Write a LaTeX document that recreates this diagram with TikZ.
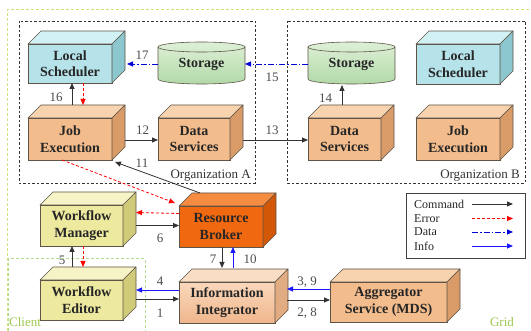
\documentclass[tikz,border=0pt]{standalone}
\usepackage{fontspec}
\setmainfont{Liberation Serif}
\usetikzlibrary{arrows.meta}
\definecolor{edgec}{HTML}{5E5448}
\definecolor{lsF}{HTML}{B6E3EA}
\definecolor{lsT}{HTML}{D2F1F5}
\definecolor{lsS}{HTML}{8CC6CE}
\definecolor{pcF}{HTML}{F3BC8C}
\definecolor{pcT}{HTML}{F8D3B0}
\definecolor{pcS}{HTML}{D99C68}
\definecolor{wfF}{HTML}{EDE99F}
\definecolor{wfT}{HTML}{F6F3C6}
\definecolor{wfS}{HTML}{D0CB78}
\definecolor{rbF}{HTML}{F0680F}
\definecolor{rbT}{HTML}{F68B42}
\definecolor{rbS}{HTML}{D25808}
\definecolor{iiT}{HTML}{FADDC5}
\definecolor{iiS}{HTML}{E2AC82}
\definecolor{iiA}{HTML}{FAD8BC}
\definecolor{iiB}{HTML}{EFB68C}
\definecolor{stT}{HTML}{DDF0D6}
\definecolor{stB}{HTML}{B2D9A8}
\definecolor{gridc}{HTML}{D6DE7A}
\definecolor{clientc}{HTML}{B4DC8C}
\definecolor{labc}{HTML}{9CC850}
\newcommand\cubo[9]{%
\node[cub, minimum width=#4pt, minimum height=#5pt, #6] (#1) at (#2,#3) {#9};
\filldraw[cubeedge, fill=#7] (#1.north west) -- ++(13pt,13pt) -- ([shift={(13pt,13pt)}]#1.north east) -- (#1.north east) -- cycle;
\filldraw[cubeedge, fill=#8] (#1.north east) -- ++(13pt,13pt) -- ([shift={(13pt,13pt)}]#1.south east) -- (#1.south east) -- cycle;
}
\newcommand\cylo[2]{%
\path[draw=edgec, line width=0.6pt, top color=stT, bottom color=stB] (#1,47) -- (#1,79) arc[start angle=180,end angle=360,x radius=43.5pt,y radius=5pt] -- (#2,47) arc[start angle=0,end angle=180,x radius=43.5pt,y radius=5pt] -- cycle;
\draw[draw=edgec, line width=0.6pt] (#1,47) arc[start angle=180,end angle=360,x radius=43.5pt,y radius=5pt];
}
\begin{document}
\begin{tikzpicture}[x=1pt,y=-1pt,
  cub/.style={draw=edgec, line width=0.6pt, align=center, inner sep=0pt, outer sep=0pt,
    font=\fontsize{14}{16.5}\selectfont\bfseries, text=black!85},
  cubeedge/.style={draw=edgec, line width=0.6pt, line join=round},
  lbl/.style={font=\fontsize{13}{13}\selectfont, text=black!70, inner sep=0pt},
  legt/.style={font=\fontsize{12}{12}\selectfont, text=black!85, inner sep=0pt, anchor=west},
  tip/.style={-{Triangle[length=6pt,width=5pt]}},
  cmd/.style={tip, line width=0.8pt, draw=black!80},
  err/.style={tip, line width=0.8pt, draw=red, dash pattern=on 3pt off 2pt},
  dat/.style={tip, line width=0.8pt, draw=blue!85!black, dash pattern=on 6pt off 2pt on 1.5pt off 2pt},
  inf/.style={tip, line width=0.8pt, draw=blue!90},
  orgbox/.style={draw=black!80, line width=0.8pt, dash pattern=on 2.5pt off 2pt},
  zone/.style={line width=1pt, dash pattern=on 3pt off 2pt}]
\useasboundingbox[fill=white] (0,0) rectangle (531,331);

% zones
\draw[zone, draw=gridc] (7,331) -- (7,10) -- (531,10);
\draw[zone, draw=clientc] (8,331) -- (8,259) -- (145,259) -- (145,331);
\node[lbl, text=labc] (clientlbl) at (25,322.5) {Client};
\node[lbl, text=labc] (gridlbl) at (502,322.5) {Grid};

% organizations
\draw[orgbox] (19,21) rectangle (255,183);
\draw[orgbox] (287,21) rectangle (525,183);
\node[lbl, text=black!80, anchor=east] (orgA) at (251,176) {Organization A};
\node[lbl, text=black!80, anchor=east] (orgB) at (520,176) {Organization B};

% storage
\cylo{158}{245}
\node[cub, draw=none, minimum width=87pt, minimum height=42pt] (stA) at (201.5,64) {Storage};
\cylo{308}{395}
\node[cub, draw=none, minimum width=87pt, minimum height=42pt] (stB) at (351.5,64) {Storage};

% cuboids
\cubo{LSA}{70}{63.5}{84}{39}{fill=lsF}{lsT}{lsS}{Local\\Scheduler}
\cubo{LSB}{458}{64}{84}{40}{fill=lsF}{lsT}{lsS}{Local\\Scheduler}
\cubo{JEA}{70}{139}{84}{42}{fill=pcF}{pcT}{pcS}{Job\\Execution}
\cubo{DSA}{194}{139}{72}{42}{fill=pcF}{pcT}{pcS}{Data\\Services}
\cubo{DSB}{344.5}{139}{73}{42}{fill=pcF}{pcT}{pcS}{Data\\Services}
\cubo{JEB}{458}{139}{84}{42}{fill=pcF}{pcT}{pcS}{Job\\Execution}
\cubo{WM}{81.5}{225.5}{83}{41}{fill=wfF}{wfT}{wfS}{Workflow\\Manager}
\cubo{WE}{81.5}{300}{83}{40}{fill=wfF}{wfT}{wfS}{Workflow\\Editor}
\cubo{RB}{221}{226.5}{84}{41}{fill=rbF}{rbT}{rbS}{Resource\\Broker}
\cubo{II}{227}{302.5}{96}{41}{top color=iiA, bottom color=iiB}{iiT}{iiS}{Information\\Integrator}
\cubo{AG}{388.5}{302}{117}{40}{fill=pcF}{pcT}{pcS}{Aggregator\\Service (MDS)}

% helper coordinates
\coordinate (ii4) at ([yshift=12.5pt]II.west);
\coordinate (ii1) at ([yshift=3.5pt]II.west);
\coordinate (iitop) at ([yshift=14pt]II.north);
\coordinate (ag39) at ([yshift=13pt]AG.west);
\coordinate (ag28) at ([yshift=2pt]AG.west);

% connectors organization A
\draw[cmd] ([xshift=2pt,yshift=13pt]JEA.north) -- ([xshift=2pt]LSA.south);
\draw[err] ([xshift=13pt]LSA.south) -- ([xshift=13pt,yshift=13pt]JEA.north);
\draw[dat] (stA.west) -- ([xshift=15pt]LSA.east |- stA.west);
\draw[dat] (stB.west) -- (stA.east);
\draw[cmd] ([xshift=13pt,yshift=-1pt]JEA.east) -- ([yshift=-1pt]DSA.west);
\draw[cmd] ([xshift=13pt,yshift=-1pt]DSA.east) -- ([yshift=-1pt]DSB.west);
\draw[cmd] ([xshift=-2.5pt,yshift=13pt]DSB.north) -- ([xshift=-2.5pt]DSB.north |- stB.south);
\draw[cmd] ([xshift=-21pt,yshift=13pt]RB.north) -- ([xshift=3pt,yshift=-2pt]JEA.south east);
\draw[err] ([xshift=-8pt]JEA.south) -- ([xshift=-4pt,yshift=3pt]RB.north west);

% connectors client side
\draw[err] ([yshift=13pt]RB.west) -- ([xshift=13pt,yshift=13pt]WM.east);
\draw[cmd] ([xshift=13pt]WM.east) -- (RB.west |- WM.east);
\draw[cmd] ([xshift=-9.5pt,yshift=13pt]WE.north) -- ([xshift=-9.5pt]WM.south);
\draw[err] ([xshift=1.5pt]WM.south) -- ([xshift=1.5pt,yshift=13pt]WE.north);
\draw[inf] (ii4) -- ([xshift=13pt]WE.east |- ii4);
\draw[cmd] ([xshift=13pt]WE.east |- ii1) -- (ii1);
\draw[cmd] ([xshift=1pt]RB.south) -- ([xshift=1pt]RB.south |- iitop);
\draw[inf] ([xshift=12pt]RB.south |- iitop) -- ([xshift=12pt]RB.south);
\draw[inf] (ag39) -- ([xshift=12pt]II.east |- ag39);
\draw[cmd] ([xshift=12pt]II.east |- ag28) -- (ag28);

% number labels
\node[lbl] (n16) at (56,97) {16};
\node[lbl] (n17) at (142,55) {17};
\node[lbl] (n12) at (142.5,130) {12};
\node[lbl] (n11) at (142,163) {11};
\node[lbl] (n15) at (272,77) {15};
\node[lbl] (n14) at (325.5,98) {14};
\node[lbl] (n13) at (272,130) {13};
\node[lbl] (n6) at (160,238) {6};
\node[lbl] (n5) at (62,260) {5};
\node[lbl] (n4) at (160,281) {4};
\node[lbl] (n1) at (160,313) {1};
\node[lbl] (n7) at (213,259) {7};
\node[lbl] (n10) at (250,259) {10};
\node[lbl] (n39) at (307,282) {3, 9};
\node[lbl] (n28) at (307,313) {2, 8};

% legend
\node[draw=black!75, line width=0.9pt, fill=white, minimum width=119pt, minimum height=65pt, inner sep=0pt] (leg) at (465.5,225.5) {};
\node[legt] (lgc) at (414,204) {Command};
\node[legt] (lge) at (414,218.5) {Error};
\node[legt] (lgd) at (414,232) {Data};
\node[legt] (lgi) at (414,246) {Info};
\coordinate (lca) at (472,204); \coordinate (lcb) at (513,204);
\coordinate (lea) at (472,218.5); \coordinate (leb) at (513,218.5);
\coordinate (lda) at (472,232); \coordinate (ldb) at (513,232);
\coordinate (lia) at (472,246); \coordinate (lib) at (513,246);
\draw[cmd] (lca) -- (lcb);
\draw[err] (lea) -- (leb);
\draw[dat] (lda) -- (ldb);
\draw[inf] (lia) -- (lib);
\end{tikzpicture}
\end{document}
